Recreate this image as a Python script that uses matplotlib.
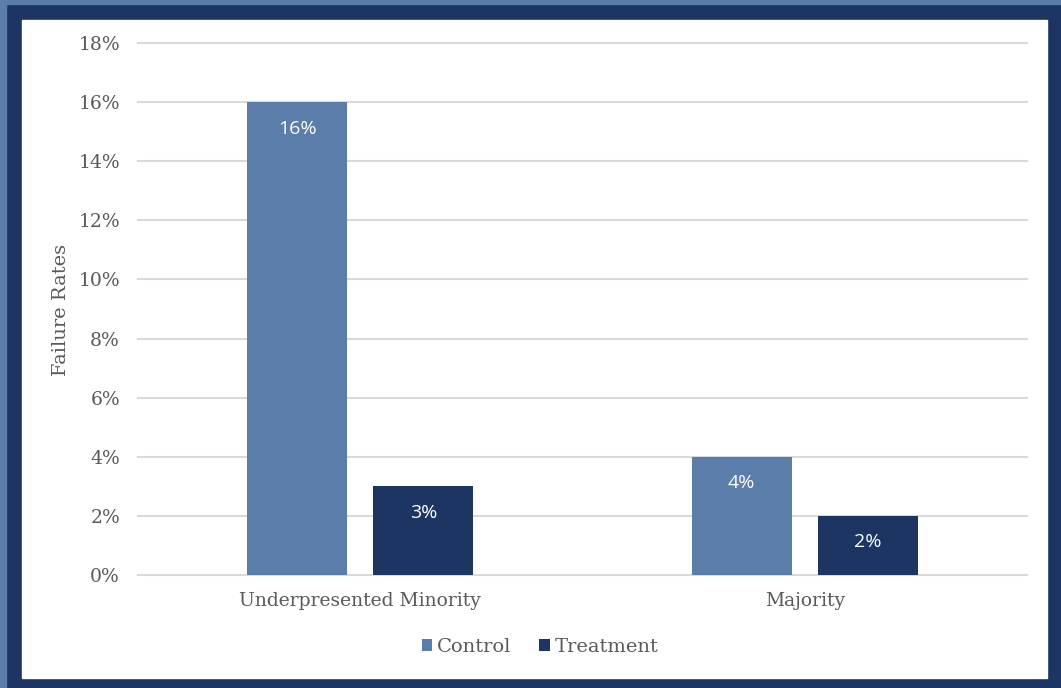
import numpy as np
import matplotlib
matplotlib.use("Agg")
import matplotlib.pyplot as plt
from matplotlib.patches import Rectangle

# data
groups = ["Underpresented Minority", "Majority"]
control = [16, 4]
treatment = [3, 2]
yticks = [0, 2, 4, 6, 8, 10, 12, 14, 16, 18]

light = "#5A7DA9"
navy = "#1C3563"
grey = "#595959"
serif = "DejaVu Serif"

W, H = 1061, 688
fig = plt.figure(figsize=(W/100, H/100), dpi=100, facecolor=navy)

# outer strips and white panel, behind the axes
fig.patches.append(Rectangle((0, 0), 6/W, 1, transform=fig.transFigure, color=light, zorder=-3))
fig.patches.append(Rectangle((0, 1-4/H), 1, 4/H, transform=fig.transFigure, color=light, zorder=-3))
fig.patches.append(Rectangle((22/W, 1-678/H), (1047-22)/W, (678-20)/H,
                             transform=fig.transFigure, color="white", zorder=-2))

ax = fig.add_axes([138/W, 1-575/H, (1027-138)/W, (575-43)/H])
ax.set_facecolor("none")

x = np.arange(len(groups))
w = 0.225
off = 0.142
b1 = ax.bar(x-off, control, w, color=light, label="Control", zorder=3)
b2 = ax.bar(x+off, treatment, w, color=navy, label="Treatment", zorder=3)

lab_font = dict(family=["Open Sans", "DejaVu Sans"], fontsize=14, color="white")
for bars, vals in [(b1, control), (b2, treatment)]:
    for b, v in zip(bars, vals):
        ax.text(b.get_x()+b.get_width()/2, v-0.9, "%d%%" % v, ha="center", va="center", **lab_font)

ax.set_xlim(-0.5, 1.5)
ax.set_ylim(0, 18)
ax.set_yticks(yticks)
ax.set_yticklabels(["%d%%" % t for t in yticks])
ax.set_xticks(x)
ax.set_xticklabels(groups)
for s in ax.spines.values():
    s.set_visible(False)
ax.grid(axis="y", color="#D9D9D9", linewidth=1.5, zorder=0, clip_on=False)
ax.tick_params(length=0, colors=grey, labelsize=13.5, labelfontfamily=serif)
ax.tick_params(axis="y", pad=13)
ax.tick_params(axis="x", pad=12)

fig.text(61/W, 1-310/H, "Failure Rates", rotation=90, ha="center", va="center",
         color=grey, fontsize=14, family=serif)

fig.legend(handles=[b1, b2], loc="center", bbox_to_anchor=(540/W, 1-647/H), ncol=2,
           frameon=False, handlelength=0.55, handleheight=0.55, handletextpad=0.25,
           columnspacing=1.4, prop=dict(family=serif, size=14),
           labelcolor=grey)

fig.savefig("out.png", dpi=100, facecolor=navy)
